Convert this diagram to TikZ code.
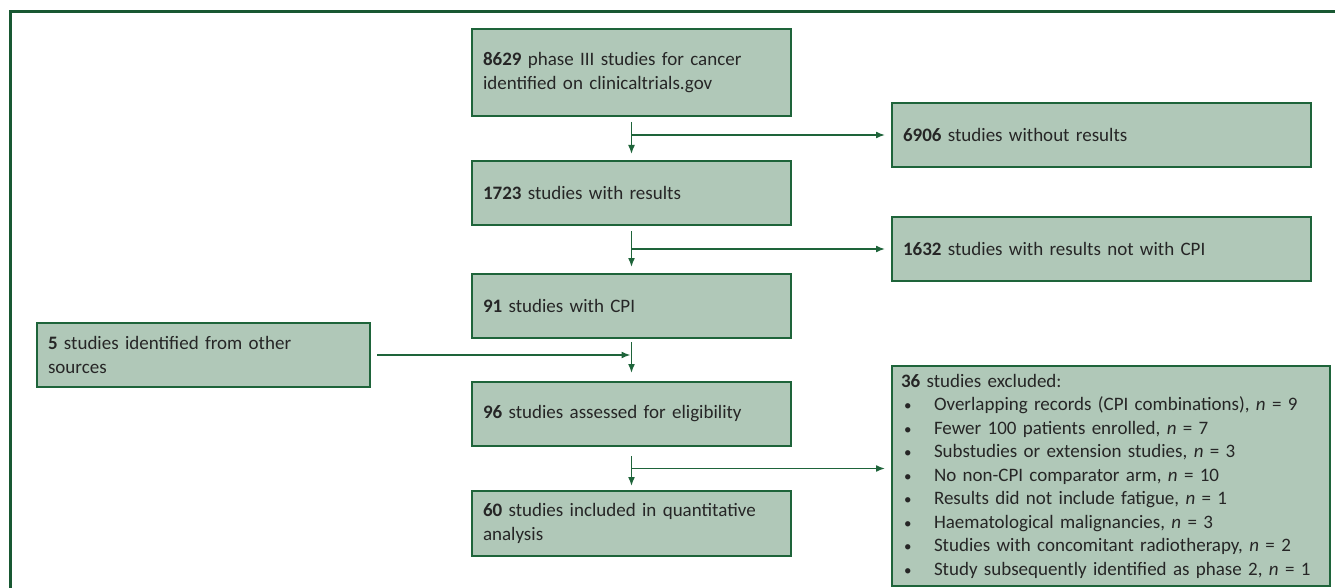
\documentclass[tikz,border=0pt]{standalone}
\usepackage{fontspec}
\setmainfont{Carlito}
\usetikzlibrary{arrows.meta,calc}

\definecolor{boxfill}{RGB}{176,200,184}
\definecolor{boxline}{RGB}{30,100,58}
\definecolor{frameline}{RGB}{24,88,50}
\definecolor{boxtext}{RGB}{38,38,38}

\tikzset{
  flowbox/.style={draw=boxline, line width=2pt, fill=boxfill, anchor=north west,
    align=left, inner xsep=11pt, inner ysep=2pt, text=boxtext,
    font=\fontsize{19}{23.5}\selectfont},
  mainbox/.style={flowbox, minimum width=319pt, text width=297pt, minimum height=64pt},
  sidebox/.style={flowbox, minimum width=419pt, text width=397pt, minimum height=64pt},
  flowarrow/.style={draw=boxline, line width=1.6pt, -{Latex[length=9pt,width=7pt]}}
}

\newcommand{\itm}[1]{\\\hspace*{3pt}\makebox[30pt][l]{\fontsize{15}{15}\selectfont\textbullet}#1}

\begin{document}
\begin{tikzpicture}[x=1pt,y=-1pt]
\clip (0,0) rectangle (1335,588);
\draw[frameline, line width=3pt] (10,12) rectangle (1350,600);

\node[mainbox, minimum height=87pt] (b1) at (471,28) {\textbf{8629} phase III studies for cancer\\identified on clinicaltrials.gov};
\node[mainbox] (b2) at (471,160) {\textbf{1723} studies with results};
\node[mainbox] (b3) at (471,273) {\textbf{91} studies with CPI};
\node[mainbox] (b4) at (471,381) {\textbf{96} studies assessed for eligibility};
\node[mainbox, minimum height=65pt] (b5) at (471,490) {\textbf{60} studies included in quantitative\\analysis};

\node[sidebox] (e1) at (891,102) {\textbf{6906} studies without results};
\node[sidebox] (e2) at (891,216) {\textbf{1632} studies with results not with CPI};
\node[flowbox, minimum width=434pt, text width=420pt, inner xsep=9pt, minimum height=220pt] (e3) at (891,365) {\textbf{36} studies excluded:
\itm{Overlapping records (CPI combinations), \textit{n} = 9}
\itm{Fewer 100 patients enrolled, \textit{n} = 7}
\itm{Substudies or extension studies, \textit{n} = 3}
\itm{No non-CPI comparator arm, \textit{n} = 10}
\itm{Results did not include fatigue, \textit{n} = 1}
\itm{Haematological malignancies, \textit{n} = 3}
\itm{Studies with concomitant radiotherapy, \textit{n} = 2}
\itm{Study subsequently identified as phase 2, \textit{n} = 1}};

\node[flowbox, minimum width=333pt, text width=311pt, minimum height=64pt] (src) at (36,322) {\textbf{5} studies identified from other\\sources};

\coordinate (j4) at ($(b4.south)!0.5!(b5.north)$);

\draw[flowarrow, shorten <=5pt, shorten >=6pt] (b1.south) -- (b2.north);
\draw[flowarrow, shorten >=6pt] (b1.south |- e1.west) -- (e1.west);
\draw[flowarrow, shorten <=5pt, shorten >=6pt] (b2.south) -- (b3.north);
\draw[flowarrow, shorten >=6pt] (b2.south |- e2.west) -- (e2.west);
\draw[flowarrow, shorten <=3pt, shorten >=8pt] (b3.south) -- (b4.north);
\draw[flowarrow, shorten <=6pt, shorten >=1pt] (src.east) -- (b3.south |- src.east);
\draw[flowarrow, shorten <=9pt, shorten >=4pt] (b4.south) -- (b5.north);
\draw[flowarrow, shorten >=6pt] (j4) -- (j4 -| e3.west);
\end{tikzpicture}
\end{document}
